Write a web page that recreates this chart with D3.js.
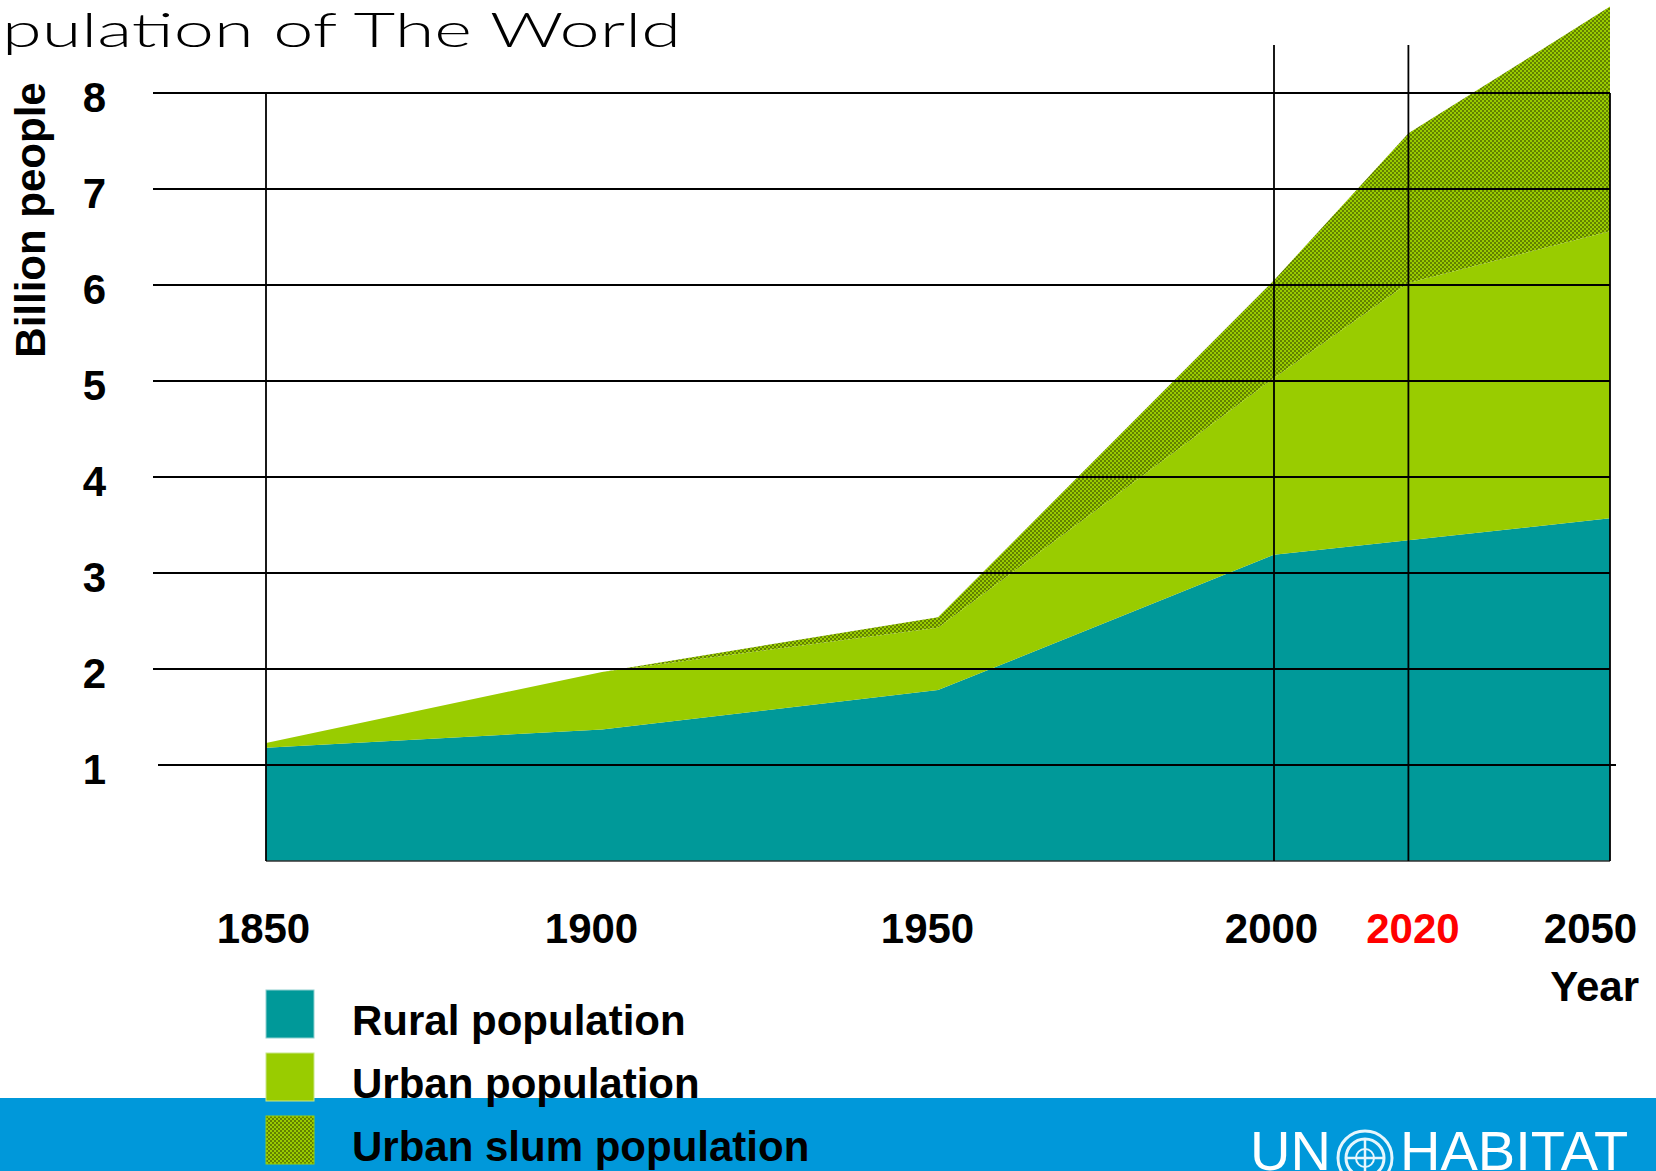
<!DOCTYPE html>
<html>
<head>
<meta charset="utf-8">
<script src="https://cdn.jsdelivr.net/npm/d3@7"></script>
<style>
  body { margin: 0; background: #fff; }
  svg text { font-family: "Liberation Sans", Arial, sans-serif; }
</style>
</head>
<body>
<div id="vis"></div>
<script>
const width = 1656;
const height = 1171;

// values, billion people
const years = [1850, 1900, 1950, 2000, 2020, 2050];
const rural = [1.18, 1.37, 1.78, 3.19, 3.34, 3.57];
const urban = [0.05, 0.60, 0.65, 1.84, 2.68, 2.99]; // urban, not slum
const slum  = [0.00, 0.00, 0.11, 1.02, 1.56, 2.34];

const yTicks = [1, 2, 3, 4, 5, 6, 7, 8];
const xTicks = [1850, 1900, 1950, 2000, 2020, 2050];
const legendLabels = ["Rural population", "Urban population", "Urban slum population"];

const teal = "#009999";
const green = "#99cc00";

const svg = d3.select("#vis")
  .append("svg")
  .attr("width", width)
  .attr("height", height);

svg.append("rect").attr("width", width).attr("height", height).attr("fill", "#fff");

// dotted fill for the slum layer
const defs = svg.append("defs");
const pat = defs.append("pattern")
  .attr("id", "slum")
  .attr("patternUnits", "userSpaceOnUse")
  .attr("width", 4)
  .attr("height", 4);
pat.append("rect").attr("width", 4).attr("height", 4).attr("fill", green);
pat.append("circle").attr("cx", 1).attr("cy", 1).attr("r", 0.8).attr("fill", "#1c2200");
pat.append("circle").attr("cx", 3).attr("cy", 3).attr("r", 0.8).attr("fill", "#1c2200");

const x = d3.scaleLinear().domain([1850, 2050]).range([266, 1610]);
const y = d3.scaleLinear().domain([0, 8]).range([861, 93]);

// stacked layers
const table = years.map((yr, i) => ({ year: yr, rural: rural[i], urban: urban[i], slum: slum[i] }));
const keys = ["rural", "urban", "slum"];
const stack = d3.stack().keys(keys)(table);
const fills = { rural: teal, urban: green, slum: "url(#slum)" };

const area = d3.area()
  .x(d => x(d.data.year))
  .y0(d => y(d[0]))
  .y1(d => y(d[1]));

svg.append("g")
  .selectAll("path")
  .data(stack)
  .join("path")
  .attr("d", area)
  .attr("fill", d => fills[d.key]);

// grid
const grid = svg.append("g").attr("stroke", "#000").attr("stroke-width", 1.8);

grid.selectAll("line.h")
  .data(yTicks)
  .join("line")
  .attr("class", "h")
  .attr("x1", d => d === 1 ? x(1850) - 108 : x(1850) - 113)
  .attr("x2", d => d === 1 ? x(2050) + 6 : x(2050))
  .attr("y1", d => y(d))
  .attr("y2", d => y(d));

grid.append("line")
  .attr("x1", x(1850)).attr("x2", x(2050))
  .attr("y1", y(0)).attr("y2", y(0))
  .attr("stroke", "#333").attr("stroke-width", 1.5);

const vLines = [1850, 2000, 2020, 2050];
grid.selectAll("line.v")
  .data(vLines)
  .join("line")
  .attr("class", "v")
  .attr("x1", d => x(d))
  .attr("x2", d => x(d))
  .attr("y1", d => (d === 2000 || d === 2020) ? y(8.5) : y(8))
  .attr("y2", y(0));

// y axis labels
const yAxis = d3.axisLeft(y).tickValues(yTicks).tickSize(0).tickPadding(0).tickFormat(d3.format("d"));
const yg = svg.append("g").attr("transform", "translate(106,0)").call(yAxis);
yg.select(".domain").remove();
yg.selectAll("text")
  .attr("dy", "0.45em")
  .attr("fill", "#000")
  .style("font-size", "42px")
  .style("font-weight", "bold");

svg.append("text")
  .attr("transform", "translate(45,220) rotate(-90)")
  .attr("text-anchor", "middle")
  .style("font-size", "42px")
  .style("font-weight", "bold")
  .text("Billion people");

// x axis labels
const labelDx = { 1850: -3, 1900: -11, 1950: -11, 2000: -3, 2020: 4, 2050: -20 };
const xAxis = d3.axisBottom(x).tickValues(xTicks).tickSize(0).tickPadding(0).tickFormat(d3.format("d"));
const xg = svg.append("g").attr("transform", "translate(0,943)").call(xAxis);
xg.select(".domain").remove();
xg.selectAll("text")
  .attr("y", 0)
  .attr("dy", null)
  .attr("dx", d => labelDx[d])
  .attr("fill", d => d === 2020 ? "#ff0000" : "#000")
  .style("font-size", "42px")
  .style("font-weight", "bold");

svg.append("text")
  .attr("x", 1639)
  .attr("y", 1001)
  .attr("text-anchor", "end")
  .style("font-size", "42px")
  .style("font-weight", "bold")
  .text("Year");

// title, cut at the left edge
svg.append("text")
  .attr("x", 2)
  .attr("y", 47)
  .attr("textLength", 679)
  .attr("lengthAdjust", "spacingAndGlyphs")
  .style("font-family", "Lato, 'Open Sans', sans-serif")
  .style("font-weight", 300)
  .style("font-size", "48px")
  .text("pulation of The World");

// bottom band and logo
svg.append("rect")
  .attr("x", 0).attr("y", 1098)
  .attr("width", width).attr("height", height - 1098)
  .attr("fill", "#0098da");

const logo = svg.append("g").attr("fill", "#fff").style("font-size", "56px");
logo.append("text").attr("x", 1250).attr("y", 1170).text("UN");
logo.append("text").attr("x", 1400).attr("y", 1170).text("HABITAT");
const emb = svg.append("g").attr("transform", "translate(1365,1158)")
  .attr("fill", "none").attr("stroke", "#e6f6fd");
emb.append("circle").attr("r", 27).attr("stroke-width", 3);
emb.append("circle").attr("r", 19).attr("stroke-width", 3);
emb.append("circle").attr("r", 9).attr("stroke-width", 2);
emb.append("line").attr("x1", 0).attr("x2", 0).attr("y1", -19).attr("y2", 19).attr("stroke-width", 2.5);
emb.append("line").attr("x1", -19).attr("x2", 19).attr("y1", 0).attr("y2", 0).attr("stroke-width", 2.5);

// legend
const legendFills = [teal, green, "url(#slum)"];
const legendBorder = ["#8fd0d0", "#c8e68a", "#99cc00"];
const legend = svg.append("g");
const rows = legend.selectAll("g")
  .data(legendLabels)
  .join("g")
  .attr("transform", (d, i) => `translate(266,${990 + i * 63})`);
rows.append("rect")
  .attr("width", 48).attr("height", 48)
  .attr("fill", (d, i) => legendFills[i])
  .attr("stroke", (d, i) => legendBorder[i])
  .attr("stroke-width", 1);
rows.append("text")
  .attr("x", 86)
  .attr("y", 45)
  .style("font-size", "42px")
  .style("font-weight", "bold")
  .text(d => d);
</script>
</body>
</html>
